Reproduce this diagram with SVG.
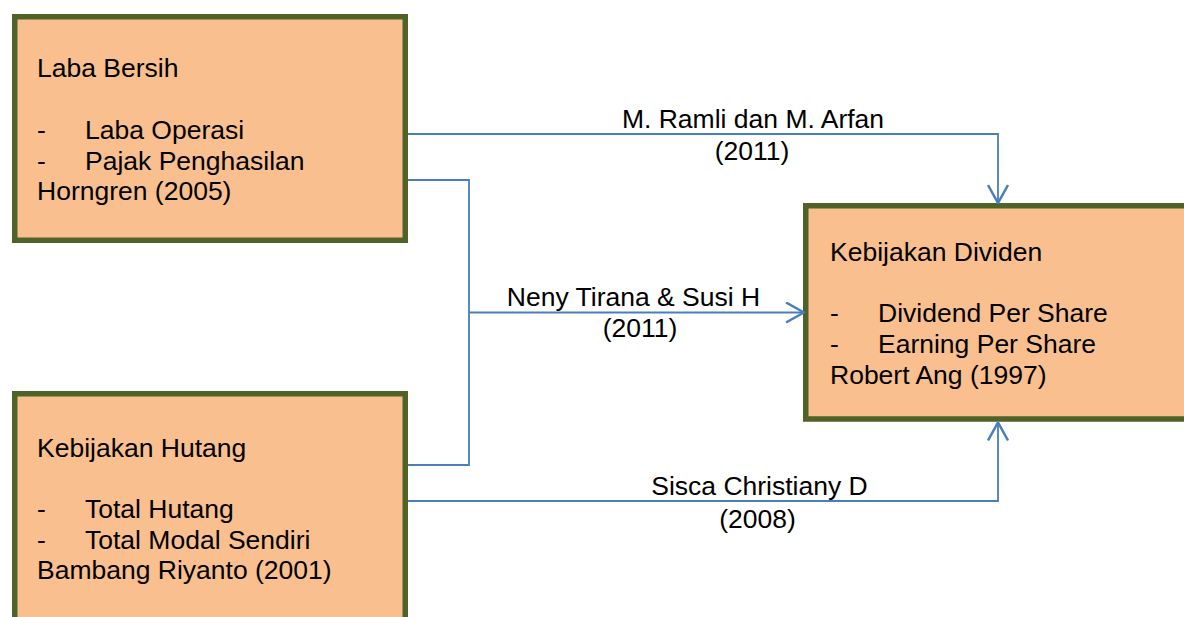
<svg xmlns="http://www.w3.org/2000/svg" width="1184" height="617" viewBox="0 0 1184 617">
  <style>
    .box { fill: #F9BF8F; stroke: #4F6228; stroke-width: 5.5; }
    .t { font-family: "Liberation Sans", Arial, sans-serif; font-size: 26.5px; fill: #000; }
    .lbl { text-anchor: middle; }
    .conn { fill: none; stroke: #4A7EBB; stroke-width: 1.8; }
  </style>
  <defs>
    <marker id="arr" viewBox="0 0 20 22" refX="19" refY="11" markerWidth="20" markerHeight="22" markerUnits="userSpaceOnUse" orient="auto">
      <path d="M1,1 L19,11 L1,21" fill="none" stroke="#4A7EBB" stroke-width="2.5"/>
    </marker>
  </defs>
  <rect width="1184" height="617" fill="#FFFFFF"/>

  <g id="node-laba-bersih">
    <rect class="box" x="14.75" y="16.75" width="390.5" height="223.5"/>
    <text class="t" x="37" y="77">Laba Bersih</text>
    <text class="t" x="37" y="138.5">-</text>
    <text class="t" x="85" y="138.5">Laba Operasi</text>
    <text class="t" x="37" y="169.5">-</text>
    <text class="t" x="85" y="169.5">Pajak Penghasilan</text>
    <text class="t" x="37" y="200">Horngren (2005)</text>
  </g>

  <g id="node-kebijakan-hutang">
    <rect class="box" x="14.75" y="393.75" width="390.5" height="240"/>
    <text class="t" x="37" y="457">Kebijakan Hutang</text>
    <text class="t" x="37" y="518">-</text>
    <text class="t" x="85" y="518">Total Hutang</text>
    <text class="t" x="37" y="548.5">-</text>
    <text class="t" x="85" y="548.5">Total Modal Sendiri</text>
    <text class="t" x="37" y="579">Bambang Riyanto (2001)</text>
  </g>

  <g id="node-kebijakan-dividen">
    <rect class="box" x="805.75" y="205.75" width="400" height="213.25"/>
    <text class="t" x="830" y="261">Kebijakan Dividen</text>
    <text class="t" x="830" y="321.5">-</text>
    <text class="t" x="878" y="321.5">Dividend Per Share</text>
    <text class="t" x="830" y="352.5">-</text>
    <text class="t" x="878" y="352.5">Earning Per Share</text>
    <text class="t" x="830" y="383.5">Robert Ang (1997)</text>
  </g>

  <g id="connectors">
    <path class="conn" d="M408,134 H998 V203" marker-end="url(#arr)"/>
    <path class="conn" d="M408,180 H469 V465 H408"/>
    <path class="conn" d="M469,312.5 H804" marker-end="url(#arr)"/>
    <path class="conn" d="M408,501 H998 V422.5" marker-end="url(#arr)"/>
    <text class="t lbl" x="753" y="128">M. Ramli dan M. Arfan</text>
    <text class="t lbl" x="752" y="160">(2011)</text>
    <text class="t lbl" x="633.5" y="306">Neny Tirana &amp; Susi H</text>
    <text class="t lbl" x="640" y="337">(2011)</text>
    <text class="t lbl" x="759.5" y="495">Sisca Christiany D</text>
    <text class="t lbl" x="757.5" y="528">(2008)</text>
  </g>
</svg>
